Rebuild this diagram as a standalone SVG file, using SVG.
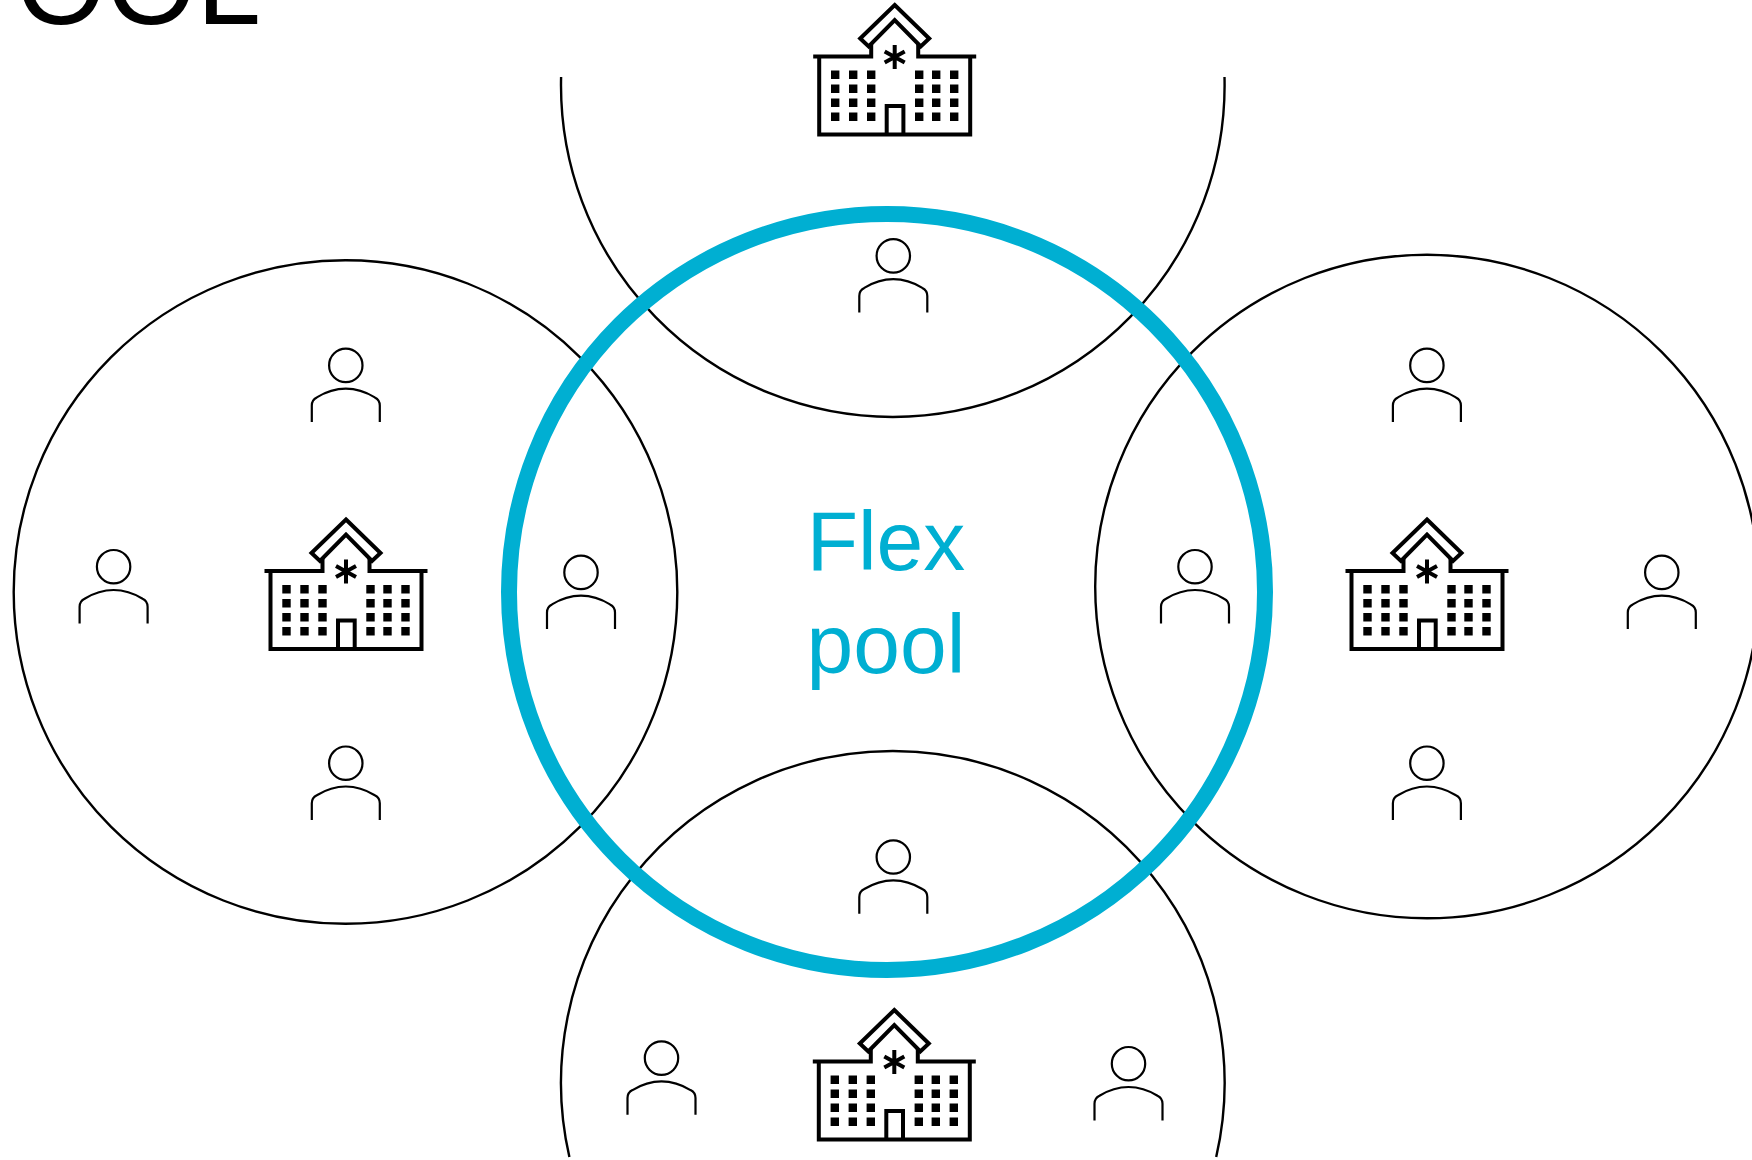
<svg xmlns="http://www.w3.org/2000/svg" width="1752" height="1160" viewBox="0 0 1752 1160">
<defs>
<style>
.ring{fill:none;stroke:#000;stroke-width:2.4}
.ln{fill:none;stroke:#000;stroke-width:4;stroke-linejoin:miter}
.p{fill:none;stroke:#000;stroke-width:2.2}
.t{font-family:"Liberation Sans",Arial,sans-serif}
</style>
<g id="bld">
<path class="ln" d="M0 4.500L34.500 38L26 46L0 19.500L-26 46L-34.500 38Z"/>
<path class="ln" d="M-81.500 56H-23.500V43.500M23.500 43.500V56H81.500M-75.500 56V134H75.500V56M-8 134V105.500H8.700V134"/>
<path class="ln" d="M0 44.500V68.500M-10 51L10 62M10 51L-10 62"/>
<path d="M-63.700 70h8.400v8.400h-8.400zM-45.700 70h8.400v8.400h-8.400zM-27.700 70h8.400v8.400h-8.400zM20.300 70h8.400v8.400h-8.400zM37.300 70h8.400v8.400h-8.400zM55.300 70h8.400v8.400h-8.400zM-63.700 84h8.400v8.400h-8.400zM-45.700 84h8.400v8.400h-8.400zM-27.700 84h8.400v8.400h-8.400zM20.300 84h8.400v8.400h-8.400zM37.300 84h8.400v8.400h-8.400zM55.300 84h8.400v8.400h-8.400zM-63.700 98h8.400v8.400h-8.400zM-45.700 98h8.400v8.400h-8.400zM-27.700 98h8.400v8.400h-8.400zM20.300 98h8.400v8.400h-8.400zM37.300 98h8.400v8.400h-8.400zM55.300 98h8.400v8.400h-8.400zM-63.700 112h8.400v8.400h-8.400zM-45.700 112h8.400v8.400h-8.400zM-27.700 112h8.400v8.400h-8.400zM20.300 112h8.400v8.400h-8.400zM37.300 112h8.400v8.400h-8.400zM55.300 112h8.400v8.400h-8.400z"/>
</g>
<g id="psn">
<circle class="p" r="16.700"/>
<path class="p" d="M-34 56.700V40C-34 36 -32 33.500 -29 32C-20 26.500 -10 23.300 0 23.300C10 23.300 20 26.500 29 32C32 33.500 34 36 34 40V56.700"/>
</g>
</defs>
<rect width="1752" height="1160" fill="#fff"/>
<text id="title" class="t" x="16" y="24" font-size="116">OOL</text>
<g id="connectors">
<circle class="ring" cx="345.500" cy="592" r="331.800"/>
<circle class="ring" cx="1427" cy="586.500" r="331.800"/>
<path class="ring" d="M561.100 77A331.800 331.800 0 1 0 1224.500 77"/>
<path class="ring" d="M569.400 1157A331.800 331.800 0 1 1 1216.200 1157"/>
</g>
<g id="flex-pool">
<circle cx="887" cy="592" r="378" fill="none" stroke="#00afd2" stroke-width="16"/>
<text class="t" x="886" y="570" font-size="84" fill="#00afd2" text-anchor="middle">Flex</text>
<text class="t" x="886" y="673" font-size="84" fill="#00afd2" text-anchor="middle">pool</text>
</g>
<use id="building-top" href="#bld" x="894.700" y="0.500"/>
<use id="building-left" href="#bld" x="346" y="515"/>
<use id="building-right" href="#bld" x="1427" y="515"/>
<use id="building-bottom" href="#bld" x="894.300" y="1005.500"/>
<use id="person-1" href="#psn" x="345.800" y="365.400"/>
<use id="person-2" href="#psn" x="113.600" y="566.700"/>
<use id="person-3" href="#psn" x="581" y="572.400"/>
<use id="person-4" href="#psn" x="345.800" y="763.200"/>
<use id="person-5" href="#psn" x="893.300" y="255.900"/>
<use id="person-6" href="#psn" x="893.300" y="857"/>
<use id="person-7" href="#psn" x="661.500" y="1058.100"/>
<use id="person-8" href="#psn" x="1128.500" y="1063.700"/>
<use id="person-9" href="#psn" x="1426.900" y="365.400"/>
<use id="person-10" href="#psn" x="1195" y="566.700"/>
<use id="person-11" href="#psn" x="1661.800" y="572.400"/>
<use id="person-12" href="#psn" x="1426.900" y="763.200"/>
</svg>
